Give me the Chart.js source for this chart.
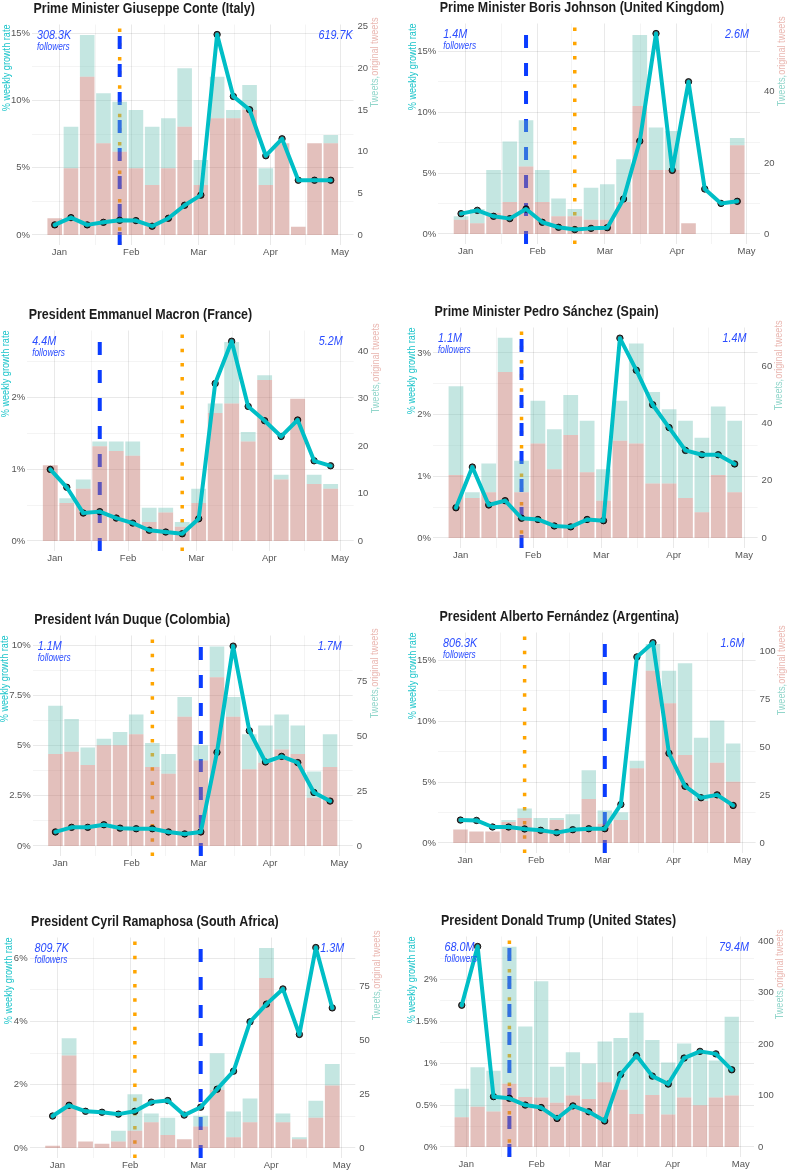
<!DOCTYPE html>
<html>
<head>
<meta charset="utf-8">
<script src="https://cdn.jsdelivr.net/npm/chart.js@4.4.1/dist/chart.umd.min.js"></script>
<style>
  html, body { margin: 0; padding: 0; background: #fff; width: 789px; height: 1171px; overflow: hidden; position: relative; }
  canvas { position: absolute; }
</style>
</head>
<body>
<script>
// weeks (bar centres) and month ticks
const weekDates = ['2019-12-30', '2020-01-06', '2020-01-13', '2020-01-20', '2020-01-27', '2020-02-03',
  '2020-02-10', '2020-02-17', '2020-02-24', '2020-03-02', '2020-03-09', '2020-03-16',
  '2020-03-23', '2020-03-30', '2020-04-06', '2020-04-13', '2020-04-20', '2020-04-27'];
const monthDates = ['2020-01-01', '2020-02-01', '2020-03-01', '2020-04-01', '2020-05-01'];
const monthLabels = ['Jan', 'Feb', 'Mar', 'Apr', 'May'];

// Italy
const conteGrowth = [0.75, 1.29, 0.75, 0.94, 1.09, 1.07, 0.65, 1.24, 2.21, 2.96, 14.9, 10.3, 9.31, 5.89, 7.15, 4.07, 4.07, 4.07];
const conteTweets = [2, 13, 24, 17, 16, 15, 13, 14, 20, 9, 19, 15, 18, 8, 11, 1, 11, 12];
const conteOriginal = [2, 8, 19, 11, 10, 8, 6, 8, 13, 6, 14, 14, 15, 6, 11, 1, 11, 11];
// United Kingdom
const johnsonGrowth = [1.67, 1.94, 1.45, 1.26, 2.05, 0.96, 0.55, 0.36, 0.46, 0.52, 2.87, 7.62, 16.45, 5.22, 12.49, 3.69, 2.51, 2.68];
const johnsonTweets = [5, 7, 18, 26, 32, 18, 10, 7, 13, 14, 21, 56, 30, 29, 3, 0, 0, 27];
const johnsonOriginal = [4, 3, 6, 9, 19, 9, 5, 5, 4, 4, 9, 36, 18, 18, 3, 0, 0, 25];
// France
const macronGrowth = [1.0, 0.75, 0.39, 0.41, 0.32, 0.25, 0.15, 0.125, 0.1, 0.31, 2.2, 2.79, 1.88, 1.68, 1.46, 1.69, 1.12, 1.05];
const macronTweets = [16, 9, 13, 21, 21, 21, 7, 7, 4, 11, 29, 42, 23, 35, 14, 30, 14, 12];
const macronOriginal = [16, 8, 11, 20, 19, 18, 4, 6, 3, 8, 27, 29, 21, 34, 13, 30, 12, 11];
// Spain
const sanchezGrowth = [0.49, 1.15, 0.535, 0.605, 0.32, 0.3, 0.195, 0.18, 0.3, 0.28, 3.24, 2.72, 2.16, 1.79, 1.42, 1.35, 1.35, 1.2];
const sanchezTweets = [53, 16, 26, 70, 27, 48, 38, 50, 41, 24, 48, 68, 51, 45, 41, 35, 46, 41];
const sanchezOriginal = [22, 14, 16, 58, 16, 33, 24, 36, 23, 13, 34, 33, 19, 19, 14, 9, 22, 16];
// Colombia
const duqueGrowth = [0.7, 0.93, 0.93, 1.06, 0.89, 0.86, 0.86, 0.7, 0.6, 0.7, 4.67, 9.97, 5.75, 4.19, 4.47, 4.16, 2.67, 2.24];
const duqueTweets = [64, 58, 45, 49, 52, 60, 47, 42, 68, 46, 91, 68, 51, 55, 60, 55, 34, 51];
const duqueOriginal = [42, 43, 37, 46, 46, 51, 36, 33, 59, 39, 77, 59, 35, 38, 44, 42, 22, 36];
// Argentina
const fernandezGrowth = [1.88, 1.85, 1.31, 1.31, 1.15, 1.04, 0.85, 1.09, 1.17, 1.17, 3.16, 15.27, 16.44, 7.36, 4.66, 3.71, 3.95, 3.08];
const fernandezTweets = [7, 6, 6, 12, 18, 13, 13, 15, 38, 17, 16, 43, 104, 90, 94, 55, 64, 52];
const fernandezOriginal = [7, 6, 6, 11, 13, 7, 12, 7, 23, 10, 12, 39, 90, 73, 46, 22, 42, 32];
// South Africa
const ramaphosaGrowth = [1.01, 1.35, 1.16, 1.13, 1.07, 1.16, 1.45, 1.5, 1.04, 1.29, 1.86, 2.43, 3.99, 4.55, 5.03, 3.59, 6.34, 4.43];
const ramaphosaTweets = [1, 51, 3, 2, 8, 25, 16, 14, 4, 15, 44, 17, 23, 93, 16, 5, 22, 39];
const ramaphosaOriginal = [1, 43, 3, 2, 3, 8, 12, 6, 4, 10, 27, 5, 12, 79, 12, 4, 14, 29];
// United States
const trumpGrowth = [1.69, 2.39, 0.6, 0.58, 0.5, 0.47, 0.34, 0.49, 0.42, 0.31, 0.865, 1.09, 0.845, 0.75, 1.06, 1.14, 1.11, 0.92];
const trumpTweets = [113, 155, 148, 389, 234, 322, 156, 184, 162, 205, 212, 261, 208, 164, 201, 183, 168, 253];
const trumpOriginal = [58, 78, 69, 123, 97, 96, 86, 100, 93, 126, 111, 64, 101, 63, 96, 81, 96, 100];

const FONT = "'Liberation Sans', Arial, sans-serif";
const NARROW = 0.83; // the original uses a narrow face, squeeze text to match
const CYAN = '#00bec6';
const TICK = '#555555';

const panels = [
  { title: 'Prime Minister Giuseppe Conte (Italy)', growth: conteGrowth, tweets: conteTweets, original: conteOriginal,
    followers: ['308.3K', '619.7K'], blue: '2020-01-27', orange: '2020-01-27',
    pctTicks: [0, 5, 10, 15], tweetTicks: [0, 5, 10, 15, 20, 25], M: 14.9, k: 1.615,
    left: 0, top: -1, L: 32, R: 353.5 },
  { title: 'Prime Minister Boris Johnson (United Kingdom)', growth: johnsonGrowth, tweets: johnsonTweets, original: johnsonOriginal,
    followers: ['1.4M', '2.6M'], blue: '2020-01-27', orange: '2020-02-17',
    pctTicks: [0, 5, 10, 15], tweetTicks: [0, 20, 40], M: 16.45, k: 3.43,
    left: 394, top: -2, L: 44.3, R: 366 },
  { title: 'President Emmanuel Macron (France)', growth: macronGrowth, tweets: macronTweets, original: macronOriginal,
    followers: ['4.4M', '5.2M'], blue: '2020-01-20', orange: '2020-02-24',
    pctTicks: [0, 1, 2], tweetTicks: [0, 10, 20, 30, 40], M: 2.8, k: 15.11,
    left: 0, top: 305, L: 27.2, R: 353.7 },
  { title: 'Prime Minister Pedro Sánchez (Spain)', growth: sanchezGrowth, tweets: sanchezTweets, original: sanchezOriginal,
    followers: ['1.1M', '1.4M'], blue: '2020-01-27', orange: '2020-01-27',
    pctTicks: [0, 1, 2, 3], tweetTicks: [0, 20, 40, 60], M: 3.25, k: 21.56,
    left: 394, top: 302, L: 39, R: 363.6 },
  { title: 'President Iván Duque (Colombia)', growth: duqueGrowth, tweets: duqueTweets, original: duqueOriginal,
    followers: ['1.1M', '1.7M'], blue: '2020-03-02', orange: '2020-02-10',
    pctTicks: [0, 2.5, 5, 7.5, 10], tweetTicks: [0, 25, 50, 75], M: 10.0, k: 9.15,
    left: 0, top: 610, L: 32.8, R: 352.7 },
  { title: 'President Alberto Fernández (Argentina)', growth: fernandezGrowth, tweets: fernandezTweets, original: fernandezOriginal,
    followers: ['806.3K', '1.6M'], blue: '2020-03-02', orange: '2020-01-27',
    pctTicks: [0, 5, 10, 15], tweetTicks: [0, 25, 50, 75, 100], M: 16.45, k: 6.37,
    left: 394, top: 607, L: 44, R: 361.6 },
  { title: 'President Cyril Ramaphosa (South Africa)', growth: ramaphosaGrowth, tweets: ramaphosaTweets, original: ramaphosaOriginal,
    followers: ['809.7K', '1.3M'], blue: '2020-03-02', orange: '2020-02-03',
    pctTicks: [0, 2, 4, 6], tweetTicks: [0, 25, 50, 75], M: 6.34, k: 14.7,
    left: 0, top: 912, L: 29.6, R: 355.3 },
  { title: 'President Donald Trump (United States)', growth: trumpGrowth, tweets: trumpTweets, original: trumpOriginal,
    followers: ['68.0M', '79.4M'], blue: '2020-01-20', orange: '2020-01-20',
    pctTicks: [0, 0.5, 1, 1.5, 2], tweetTicks: [0, 100, 200, 300, 400], M: 2.39, k: 163,
    left: 394, top: 911, L: 45.5, R: 360 }
];

const dayOf = s => Math.round((Date.parse(s) - Date.parse('2020-01-01')) / 864e5);
const weekX = weekDates.map(dayOf);
const monthX = monthDates.map(dayOf);

// major + minor (midpoint) ticks
function withMinors(majors, lo, hi) {
  const out = majors.map(v => ({ value: v, major: true }));
  for (let i = 0; i < majors.length; i++) {
    const step = i < majors.length - 1 ? majors[i + 1] - majors[i] : majors[i] - majors[i - 1];
    const m = majors[i] + step / 2;
    if (m > lo && m < hi) out.push({ value: m, major: false });
  }
  return out.sort((a, b) => a.value - b.value);
}

function widest(ctx, scale, font) {
  ctx.font = font;
  let w = 0;
  scale.ticks.forEach(t => { if (t.label) w = Math.max(w, ctx.measureText(t.label).width); });
  return w;
}

// squeezed text, optionally rotated to read bottom-to-top
function narrowText(ctx, text, x, y, align, rotate) {
  ctx.save();
  ctx.translate(x, y);
  if (rotate) ctx.rotate(-Math.PI / 2);
  ctx.scale(NARROW, 1);
  ctx.textAlign = align;
  ctx.fillText(text, 0, 0);
  ctx.restore();
}

const decor = {
  id: 'decor',
  afterDraw(chart, args, o) {
    const { ctx, chartArea: a } = chart;
    const yw = widest(ctx, chart.scales.y, '9.5px ' + FONT) * NARROW;
    const y2w = widest(ctx, chart.scales.y2, '9.5px ' + FONT) * NARROW;
    ctx.save();
    ctx.textBaseline = 'middle';

    // title
    ctx.font = 'bold 15px ' + FONT;
    ctx.fillStyle = '#1c1c1c';
    narrowText(ctx, o.title, a.left + 1.5, a.top - 15.5, 'left');

    // left axis title
    ctx.font = '11px ' + FONT;
    ctx.fillStyle = '#1cc4ca';
    narrowText(ctx, '% weekly growth rate', a.left - 2 - yw - 7.5, a.top, 'right', true);

    // right axis title, two colours
    const rx = a.right + 4 + y2w + 9, ry = a.top - 7;
    ctx.fillStyle = '#eab8b2';
    narrowText(ctx, 'original tweets', rx, ry, 'right', true);
    const w = ctx.measureText('original tweets').width * NARROW;
    ctx.fillStyle = '#92d6cb';
    narrowText(ctx, 'Tweets,', rx, ry + w, 'right', true);

    // follower counts
    ctx.fillStyle = '#2b4dff';
    ctx.font = 'italic 13px ' + FONT;
    narrowText(ctx, o.followers[0], a.left + 5, a.top + 11, 'left');
    narrowText(ctx, o.followers[1], a.right - 35, a.top + 11, 'left');
    ctx.font = 'italic 10px ' + FONT;
    narrowText(ctx, 'followers', a.left + 5, a.top + 22.5, 'left');
    ctx.restore();
  }
};

const majorGrid = 'rgba(0,0,0,0.085)';
const minorGrid = 'rgba(0,0,0,0.045)';

panels.forEach(p => {
  const W = p.left === 0 ? 394 : 395;
  const H = 262;
  const cv = document.createElement('canvas');
  cv.width = W; cv.height = H;
  cv.style.left = p.left + 'px';
  cv.style.top = p.top + 'px';
  document.body.appendChild(cv);

  const yMin = -0.05 * p.M, yMax = 1.05 * p.M;
  const xMin = -11.8, xMax = 126.8;
  const blueX = dayOf(p.blue), orangeX = dayOf(p.orange);
  const growthPts = weekX.map((x, i) => ({ x, y: p.growth[i] }));

  new Chart(cv, {
    type: 'bar',
    data: {
      datasets: [
        { type: 'line', data: [{ x: orangeX, y: yMin }, { x: orangeX, y: yMax }], yAxisID: 'y',
          borderColor: '#ffa500', borderWidth: 3.5, borderDash: [3.5, 10.7], pointRadius: 0, order: 21 },
        { type: 'line', data: [{ x: blueX, y: yMin }, { x: blueX, y: yMax }], yAxisID: 'y',
          borderColor: '#0a3cff', borderWidth: 4, borderDash: [13, 15], pointRadius: 0, order: 20 },
        { label: 'Tweets', data: weekX.map((x, i) => ({ x, y: [p.original[i], p.tweets[i]] })), yAxisID: 'y2',
          backgroundColor: 'rgba(108,192,180,0.4)', grouped: false, barPercentage: 0.9, categoryPercentage: 1, order: 10 },
        { label: 'original tweets', data: weekX.map((x, i) => ({ x, y: p.original[i] })), yAxisID: 'y2',
          backgroundColor: 'rgba(193,115,106,0.45)', grouped: false, barPercentage: 0.9, categoryPercentage: 1, order: 9 },
        { type: 'line', data: growthPts, yAxisID: 'y', showLine: false, pointRadius: 3.2,
          pointBackgroundColor: 'rgba(0,0,0,0.68)', pointBorderColor: 'rgba(0,0,0,0.85)', pointBorderWidth: 1, order: 2 },
        { type: 'line', data: growthPts, yAxisID: 'y', pointRadius: 0, borderColor: CYAN, borderWidth: 4,
          borderJoinStyle: 'round', borderCapStyle: 'round', tension: 0, order: 1 }
      ]
    },
    options: {
      responsive: false, animation: false, devicePixelRatio: 1,
      layout: { padding: { top: 25.5 } },
      plugins: {
        legend: { display: false },
        tooltip: { enabled: false },
        title: { display: false },
        decor: { followers: p.followers, title: p.title }
      },
      scales: {
        x: {
          type: 'linear', min: xMin, max: xMax, offset: false,
          afterBuildTicks: s => { s.ticks = withMinors(monthX, xMin, xMax); },
          afterFit: s => { s.height = 16; },
          grid: { drawTicks: false, offset: false, color: c => (c.tick && c.tick.major ? majorGrid : minorGrid) },
          border: { display: false },
          ticks: { autoSkip: false, maxRotation: 0, padding: 2, color: TICK, font: { family: FONT, size: 9.5 },
            callback: v => { const i = monthX.indexOf(v); return i >= 0 ? monthLabels[i] : ''; } }
        },
        y: {
          position: 'left', min: yMin, max: yMax,
          afterBuildTicks: s => { s.ticks = withMinors(p.pctTicks, yMin, yMax); },
          afterFit: s => { s.width = p.L; },
          grid: { drawTicks: false, color: c => (c.tick && c.tick.major ? majorGrid : minorGrid) },
          border: { display: false },
          ticks: { padding: 2, color: TICK, font: { family: FONT, size: 9.5 },
            callback: v => (p.pctTicks.includes(v) ? v + '%' : '') }
        },
        y2: {
          position: 'right', min: yMin * p.k, max: yMax * p.k,
          afterBuildTicks: s => { s.ticks = p.tweetTicks.map(v => ({ value: v })); },
          afterFit: s => { s.width = W - p.R; },
          grid: { display: false, drawTicks: false },
          border: { display: false },
          ticks: { padding: 4, color: TICK, font: { family: FONT, size: 9.5 } }
        }
      }
    },
    plugins: [decor]
  });
});
</script>
</body>
</html>
